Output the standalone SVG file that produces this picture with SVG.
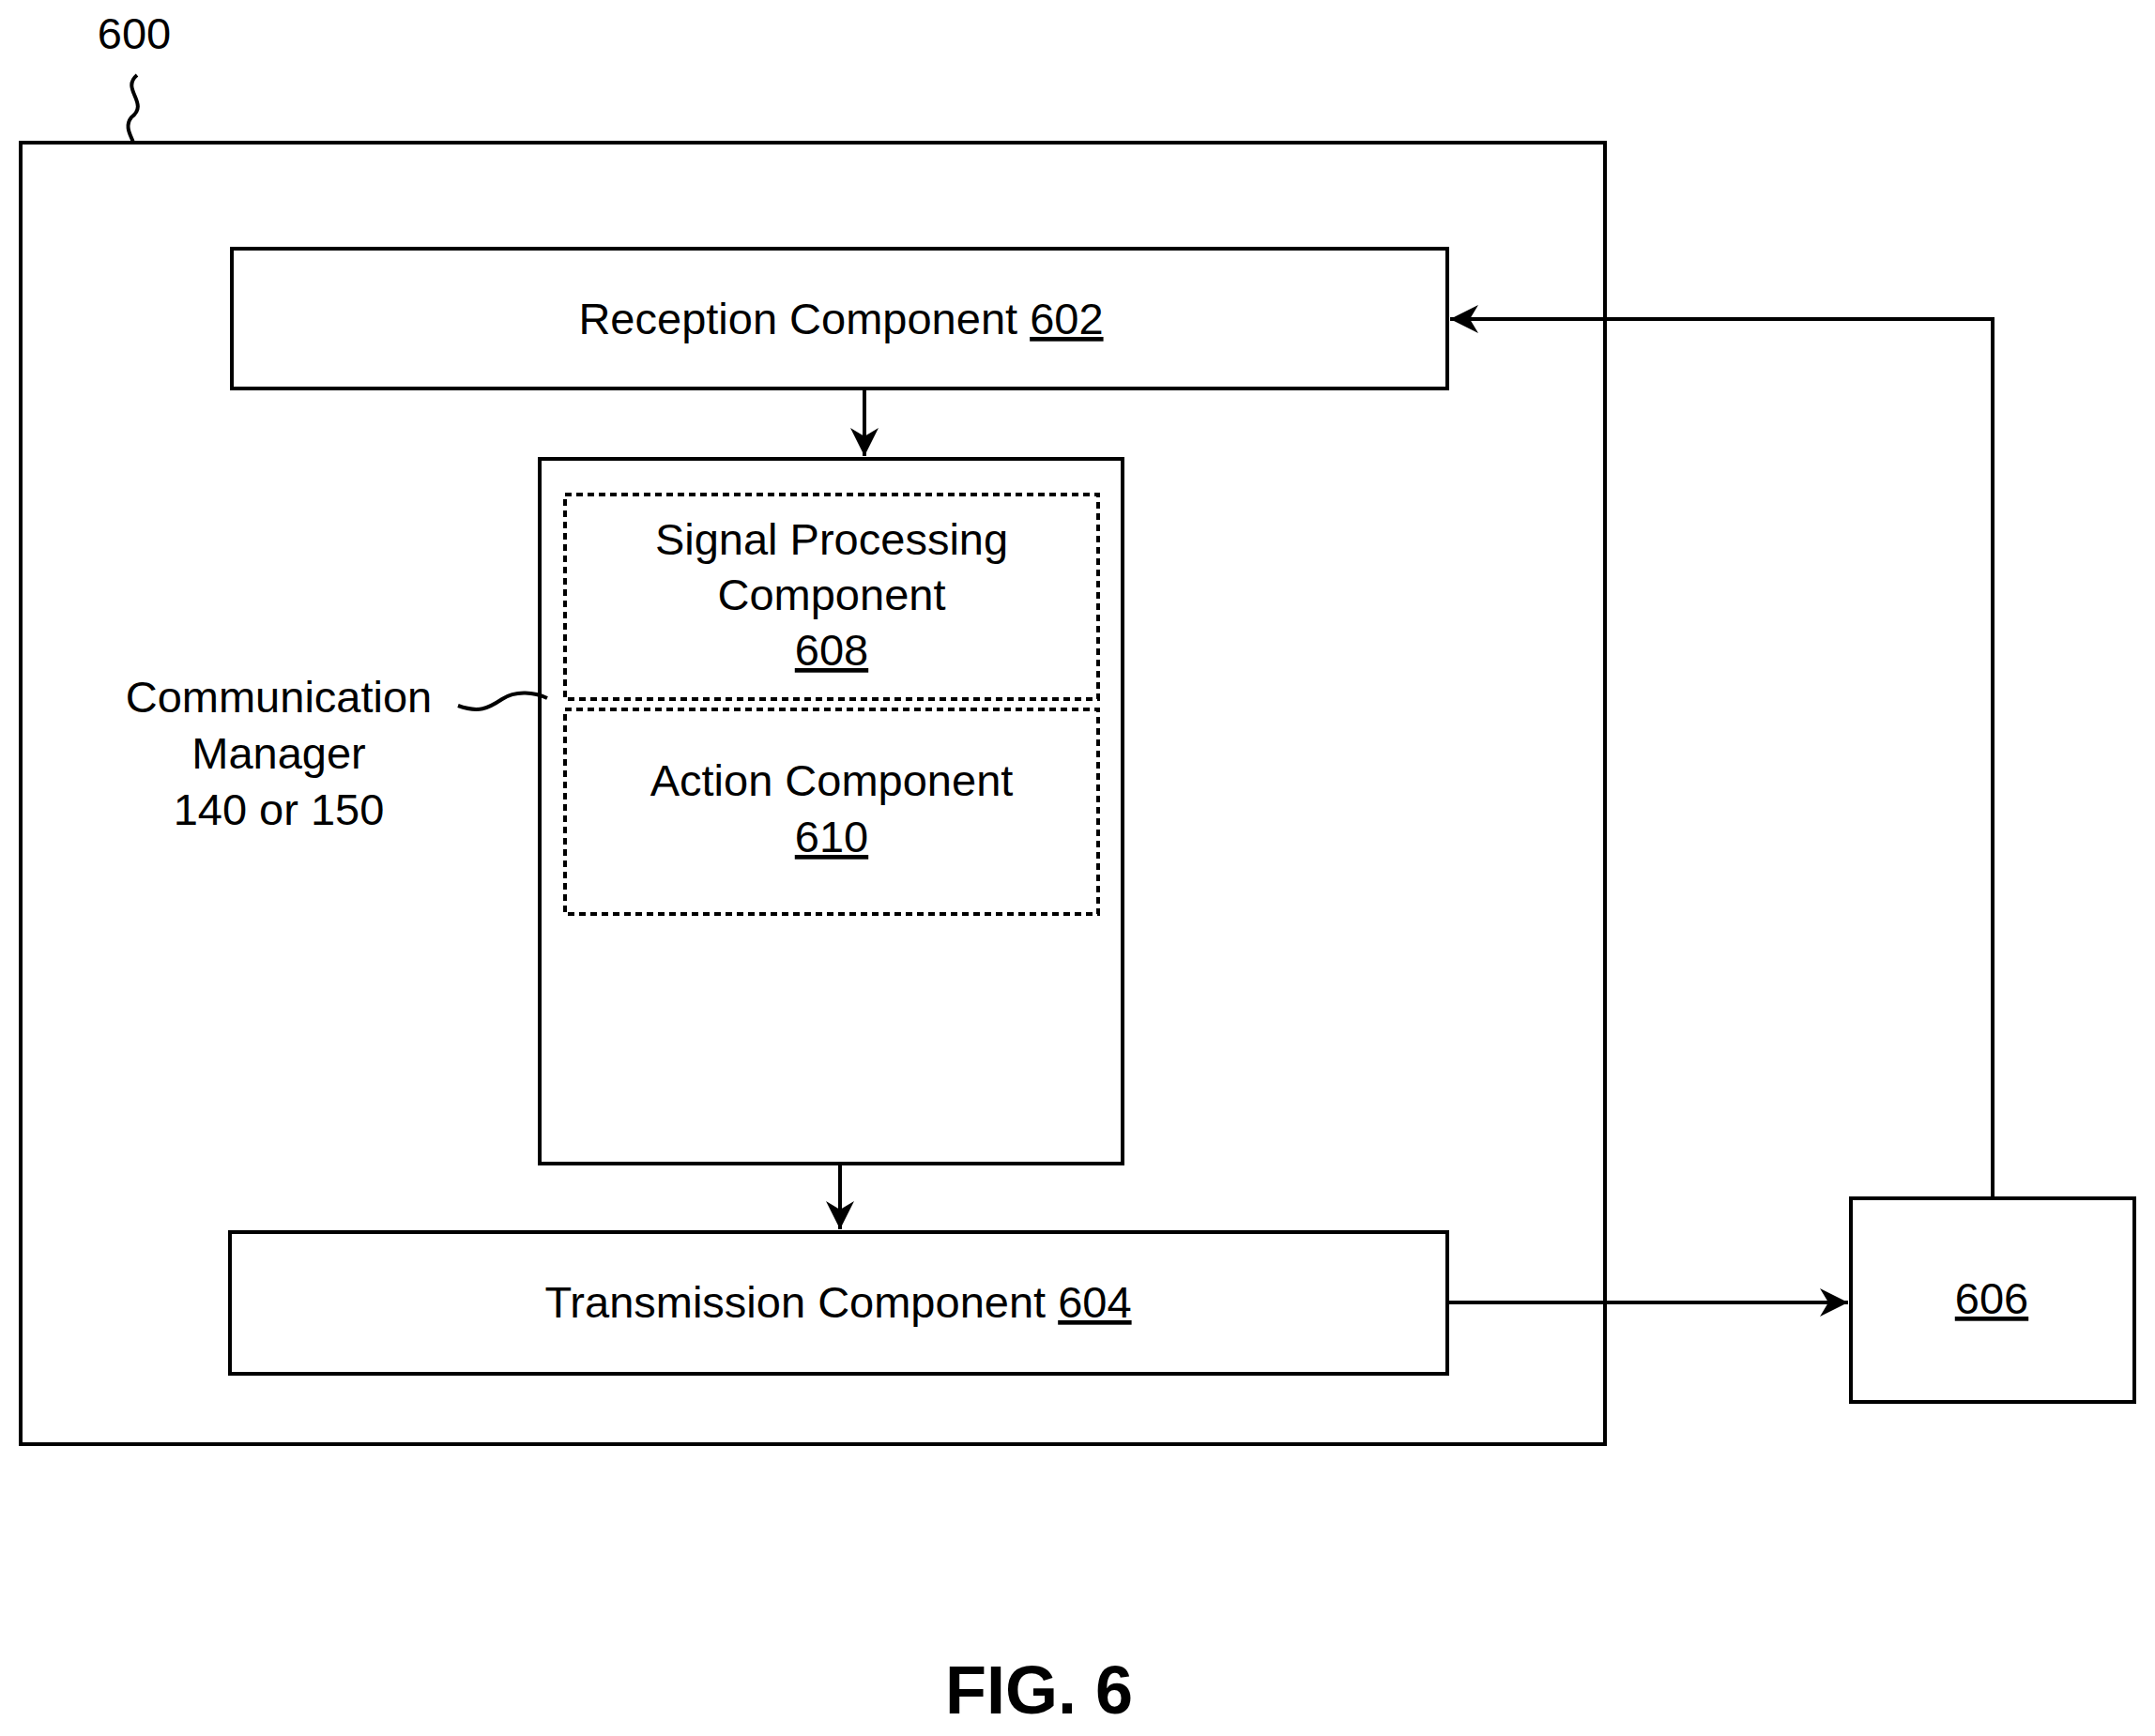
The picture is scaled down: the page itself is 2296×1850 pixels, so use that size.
<svg xmlns="http://www.w3.org/2000/svg" width="2296" height="1850" viewBox="0 0 2296 1850">
<style>
.b{fill:#fff;stroke:#000;stroke-width:4}
.d{fill:none;stroke:#000;stroke-width:4;stroke-dasharray:7,5}
.t{font-family:"Liberation Sans",Arial,sans-serif;font-size:47px;text-anchor:middle;fill:#000}
.u{text-decoration:underline}
.c{fill:none;stroke:#000;stroke-width:4}
</style>
<defs><marker id="a" markerWidth="10" markerHeight="10" refX="9" refY="5" orient="auto" markerUnits="userSpaceOnUse" viewBox="0 0 10 10"><path d="M0,0L10,5L0,10z"/></marker>
<marker id="m" viewBox="0 0 10 10" refX="10" refY="5" markerWidth="30" markerHeight="30" orient="auto" markerUnits="userSpaceOnUse"><path d="M0,0L10,5L0,10L3,5z"/></marker></defs>
<rect width="2296" height="1850" fill="#fff"/>
<g id="n600"><rect class="b" x="22" y="152" width="1688" height="1387"/>
<text class="t" x="143" y="52">600</text>
<path class="c" d="M146,80 C128,95 160,110 140,125 C132,135 140,145 142,152"/></g>
<g id="n602"><rect class="b" x="247" y="265" width="1295" height="149"/><text class="t" x="896" y="356">Reception Component <tspan class="u">602</tspan></text></g>
<g id="cm"><rect class="b" x="575" y="489" width="621" height="751"/>
<text class="t" x="297" y="759">Communication</text><text class="t" x="297" y="819">Manager</text><text class="t" x="297" y="879">140 or 150</text>
<path class="c" d="M488,752 C510,760 520,755 535,745 C550,735 570,738 583,744"/></g>
<g id="n608"><rect class="d" x="602" y="527" width="568" height="218"/>
<text class="t" x="886" y="591">Signal Processing</text><text class="t" x="886" y="650">Component</text><text class="t u" x="886" y="709">608</text></g>
<g id="n610"><rect class="d" x="602" y="756" width="568" height="218"/>
<text class="t" x="886" y="848">Action Component</text><text class="t u" x="886" y="908">610</text></g>
<g id="n604"><rect class="b" x="245" y="1313" width="1297" height="151"/><text class="t" x="893" y="1404">Transmission Component <tspan class="u">604</tspan></text></g>
<g id="n606"><rect class="b" x="1972" y="1277" width="302" height="217"/><text class="t u" x="2122" y="1400">606</text></g>
<text x="1107" y="1826" style="font-family:'Liberation Sans',Arial,sans-serif;font-size:72px;font-weight:bold;text-anchor:middle">FIG. 6</text>
<g id="connectors">
<path class="c" d="M2123,1277V340H1545" marker-end="url(#m)"/>
<path class="c" d="M921,414V486" marker-end="url(#m)"/>
<path class="c" d="M895,1240V1310" marker-end="url(#m)"/>
<path class="c" d="M1542,1388H1969" marker-end="url(#m)"/>
</g>
</svg>
